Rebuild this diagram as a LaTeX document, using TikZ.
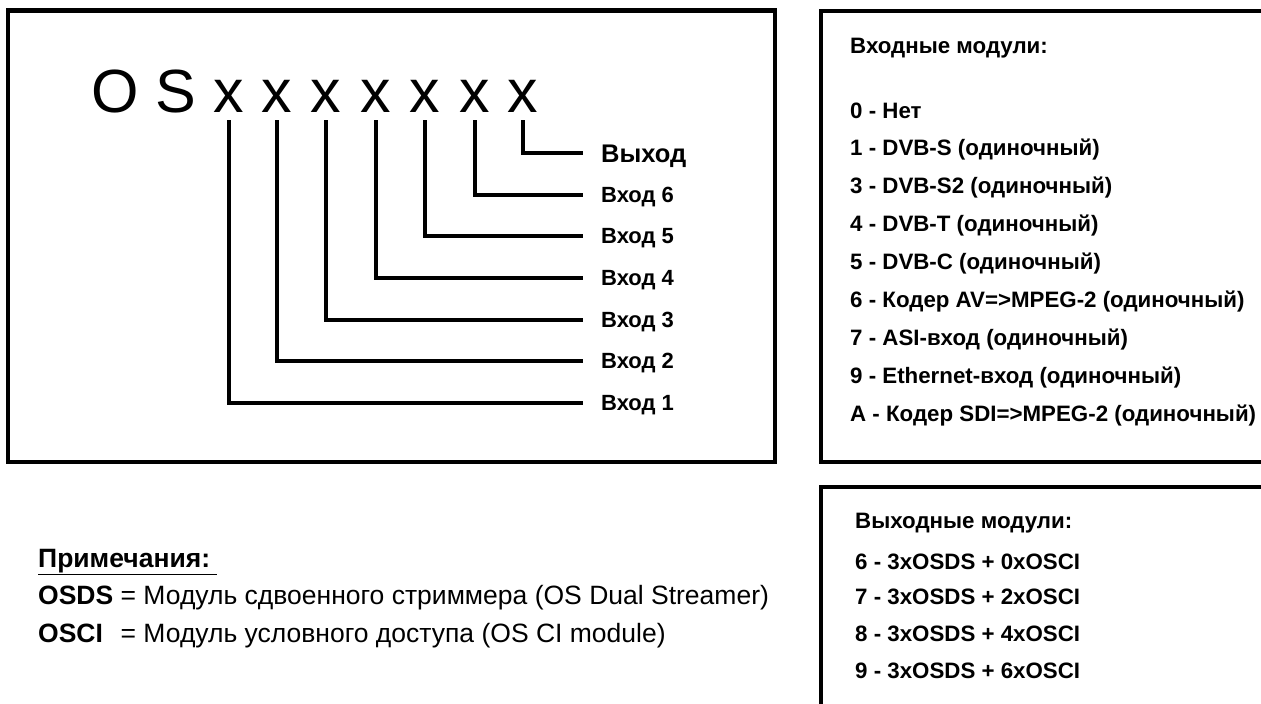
\documentclass[tikz,border=0pt]{standalone}
\usepackage{fontspec}
\setmainfont{Liberation Sans}
\begin{document}
\begin{tikzpicture}[x=1pt,y=-1pt,
  box/.style={line width=4.5pt},
  lead/.style={line width=3.6pt},
  code/.style={font=\fontsize{61}{70}\selectfont, inner sep=0pt, anchor=base},
  lbl/.style={font=\fontsize{22}{26}\selectfont\bfseries, inner sep=0pt, anchor=base west},
  outl/.style={font=\fontsize{25.5}{30}\selectfont\bfseries, inner sep=0pt, anchor=base west},
  item/.style={font=\fontsize{22.3}{26}\selectfont\bfseries, inner sep=0pt, anchor=base west},
  note/.style={font=\fontsize{26.5}{30}\selectfont, inner sep=0pt, anchor=base west}]
\useasboundingbox (0,0) rectangle (1261,704);
\begin{scope}
\clip (0,0) rectangle (1261,704);
\draw[box] (8,10.5) rectangle (775,462);
\draw[box] (821,11) rectangle (1300,462);
\draw[box] (821,487) rectangle (1300,760);
\end{scope}
% code letters
\node[code] (cO) at (115,112) {O};
\node[code] (cS) at (176,112) {S};
\foreach \i/\xx in {1/229,2/277,3/326,4/376,5/425,6/475,7/523}{
  \node[code] (x\i) at (\xx,112) {x};
}
% leaders and labels
\foreach \i/\xx/\yy/\t in {1/229/403/Вход 1,2/277/361/Вход 2,3/326/320/Вход 3,4/376/278/Вход 4,5/425/236/Вход 5,6/475/195/Вход 6}{
  \coordinate (t\i) at (\xx,120);
  \coordinate (e\i) at (583,\yy);
  \draw[lead] (t\i) |- (e\i);
  \node[lbl] (l\i) at (601,\yy+7.9) {\t};
}
\coordinate (t7) at (523,120);
\coordinate (e7) at (583,153);
\draw[lead] (t7) |- (e7);
\node[outl] (l7) at (601,153+9.1) {Выход};
% input modules
\node[item] (ih) at (850,53) {Входные модули:};
\foreach \n/\yy/\t in {0/110/0 - Нет,1/147.9/1 - DVB-S (одиночный),3/185.8/3 - DVB-S2 (одиночный),4/223.7/4 - DVB-T (одиночный),5/261.6/5 - DVB-C (одиночный),6/299.5/6 - Кодер AV=>MPEG-2 (одиночный),7/337.4/7 - ASI-вход (одиночный),9/375.3/9 - Ethernet-вход (одиночный),A/413.2/A - Кодер SDI=>MPEG-2 (одиночный)}{
  \node[item] (in\n) at (850,\yy+8) {\t};
}
% output modules
\node[item] (oh) at (855,528) {Выходные модули:};
\foreach \n/\yy/\t in {6/561.7/6 - 3xOSDS + 0xOSCI,7/596.5/7 - 3xOSDS + 2xOSCI,8/633/8 - 3xOSDS + 4xOSCI,9/670/9 - 3xOSDS + 6xOSCI}{
  \node[item] (on\n) at (855,\yy+8) {\t};
}
% notes
\node[note,font=\fontsize{26.5}{30}\selectfont\bfseries] (nh) at (38,567) {\underline{Примечания:\ }};
\node[note] (n1) at (38,604) {\makebox[3.11em][l]{\bfseries OSDS}= Модуль сдвоенного стриммера (OS Dual Streamer)};
\node[note] (n2) at (38,642) {\makebox[3.11em][l]{\bfseries OSCI}= Модуль условного доступа (OS CI module)};
\end{tikzpicture}
\end{document}
